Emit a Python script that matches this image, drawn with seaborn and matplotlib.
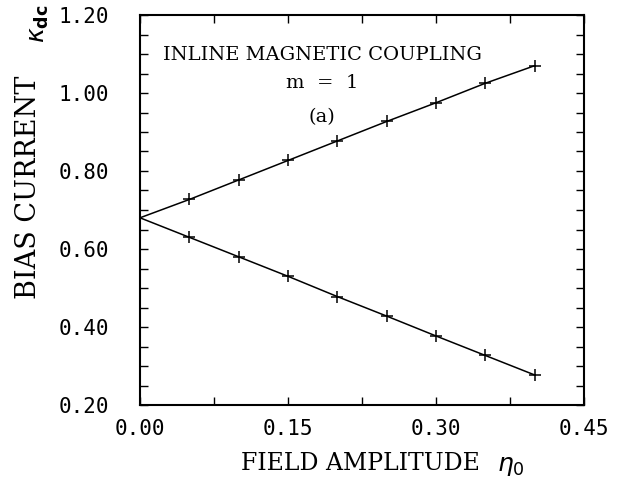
import matplotlib
matplotlib.use("Agg")
import matplotlib.pyplot as plt
import seaborn as sns
import pandas as pd
from matplotlib.ticker import MultipleLocator, FormatStrFormatter

eta = [0.00, 0.05, 0.10, 0.15, 0.20, 0.25, 0.30, 0.35, 0.40]
upper = [0.68, 0.727, 0.777, 0.827, 0.877, 0.927, 0.975, 1.025, 1.070]
lower = [0.68, 0.630, 0.580, 0.530, 0.478, 0.428, 0.377, 0.327, 0.277]

df = pd.concat([
    pd.DataFrame({"eta": eta, "kappa": upper, "branch": "upper"}),
    pd.DataFrame({"eta": eta, "kappa": lower, "branch": "lower"}),
])

sns.set_theme(style="white")
plt.rcParams["font.family"] = ["DejaVu Sans"]

fig = plt.figure(figsize=(6.18, 4.82), dpi=100)
ax = fig.add_axes([140/618, 1-405/482, (584-140)/618, (405-15)/482])

sns.lineplot(data=df, x="eta", y="kappa", units="branch", estimator=None,
             color="black", lw=1.1, ax=ax, legend=False)
pts = df[df["eta"] > 0]
sns.scatterplot(data=pts, x="eta", y="kappa", marker="+", s=80, color="black",
                linewidth=1.1, ax=ax, legend=False)

ax.set_xlim(0, 0.45)
ax.set_ylim(0.2, 1.2)
ax.xaxis.set_major_locator(MultipleLocator(0.15))
ax.xaxis.set_minor_locator(MultipleLocator(0.075))
ax.yaxis.set_major_locator(MultipleLocator(0.2))
ax.yaxis.set_minor_locator(MultipleLocator(0.05))
ax.xaxis.set_major_formatter(FormatStrFormatter("%.2f"))
ax.yaxis.set_major_formatter(FormatStrFormatter("%.2f"))
ax.tick_params(which="both", direction="in", top=True, right=True,
               bottom=True, left=True, color="black", labelcolor="black")
ax.tick_params(which="major", length=6, width=1.0, labelsize=15)
ax.tick_params(which="minor", length=6, width=1.0)
ax.tick_params(axis="y", which="major", pad=22)
ax.tick_params(axis="x", which="major", pad=10)
for lab in ax.get_xticklabels() + ax.get_yticklabels():
    lab.set_family("DejaVu Sans Mono")
for s in ax.spines.values():
    s.set_color("black")
    s.set_linewidth(1.5)
ax.set_xlabel("")
ax.set_ylabel("")

serif = ["DejaVu Serif"]
ax.text(0.41, 0.897, "INLINE MAGNETIC COUPLING", transform=ax.transAxes,
        ha="center", va="center", fontsize=14, family=serif, color="black")
ax.text(0.41, 0.825, "m  =  1", transform=ax.transAxes,
        ha="center", va="center", fontsize=14, family=serif, color="black")
ax.text(0.41, 0.737, "(a)", transform=ax.transAxes,
        ha="center", va="center", fontsize=14, family=serif, color="black")

fig.text(29/618, 1-187/482, "BIAS CURRENT", rotation=90, ha="center", va="center",
         fontsize=19.5, family=serif, color="black")
fig.text(39/618, 1-24/482, r"$\kappa_{\mathbf{dc}}$", rotation=90, ha="center",
         va="center", fontsize=18, color="black")
fig.text(360/618, 1-463/482, "FIELD AMPLITUDE", ha="center",
         va="center", fontsize=17, family=serif, color="black")
fig.text(511/618, 1-466/482, r"$\eta_0$", ha="center",
         va="center", fontsize=18, color="black")

fig.savefig("out.png", dpi=100, facecolor="white")
